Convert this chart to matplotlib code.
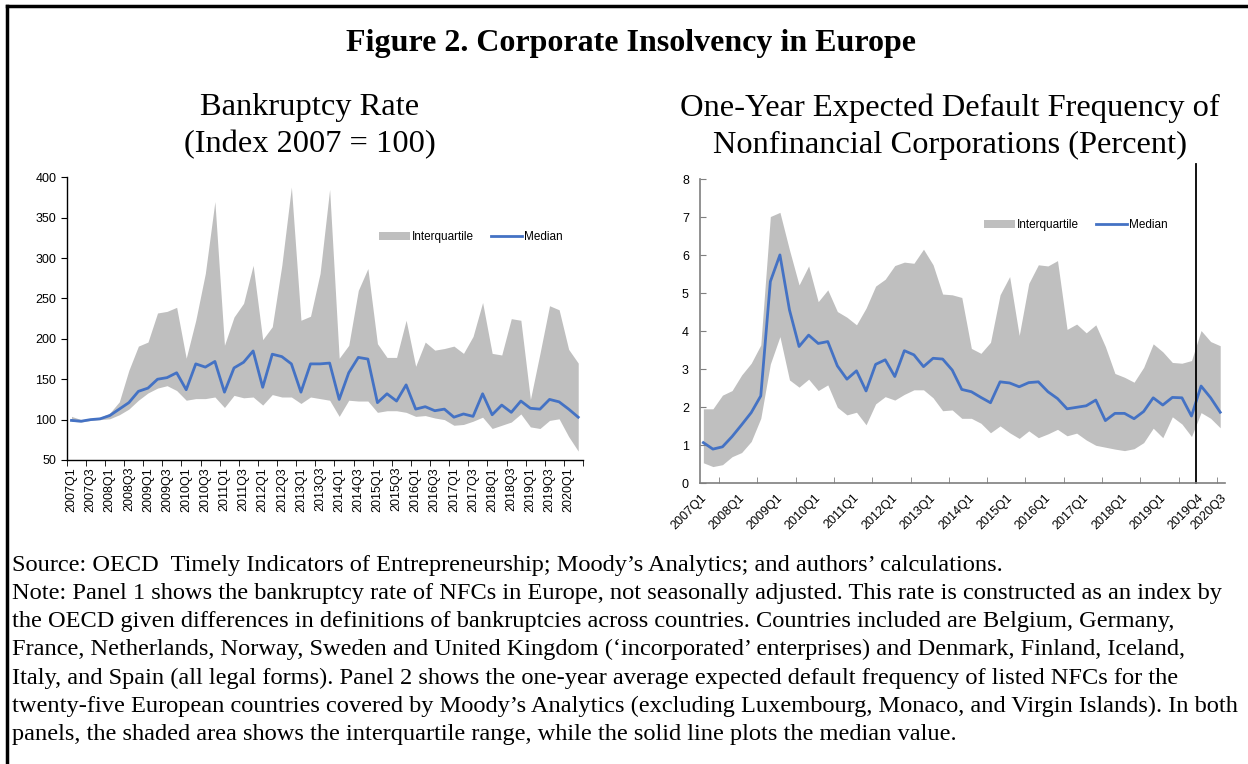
import numpy as np
import matplotlib
matplotlib.use('Agg')
from matplotlib import pyplot as plt
from matplotlib.patches import Patch
from matplotlib.lines import Line2D

# left panel: bankruptcy rate, 2007Q1 - 2020Q2
br_labels = [f'{y}Q{q}' for y in range(2007, 2021) for q in (1, 3)]
br_median = [99, 98, 100, 101, 105, 113, 121, 135, 139, 150, 152, 158, 137, 169, 165, 172,
             134, 164, 171, 185, 140, 181, 178, 169, 134, 169, 169, 170, 125, 158, 177, 175,
             121, 132, 123, 143, 113, 116, 111, 113, 103, 107, 104, 132, 106, 118, 109, 123,
             114, 113, 125, 122, 113, 103]
br_upper = [104, 100, 101, 103, 108, 122, 161, 191, 196, 232, 234, 239, 176, 223, 281, 370,
            192, 227, 244, 291, 199, 215, 291, 388, 223, 228, 281, 385, 176, 192, 260, 287,
            194, 177, 177, 223, 166, 196, 186, 188, 191, 182, 203, 245, 182, 180, 225, 223,
            125, 182, 241, 236, 187, 170]
br_lower = [98, 97, 99, 100, 101, 106, 113, 124, 133, 139, 142, 136, 124, 126, 126, 128,
            115, 130, 127, 128, 118, 131, 128, 128, 120, 128, 126, 124, 104, 124, 123, 123,
            109, 111, 111, 109, 104, 105, 102, 100, 93, 94, 98, 103, 89, 93, 97, 107,
            91, 89, 99, 101, 79, 61]

# right panel: expected default frequency, 2007Q1 - 2020Q3
edf_median = [1.07, 0.90, 0.96, 1.23, 1.54, 1.86, 2.30, 5.31, 6.01, 4.56, 3.60, 3.90, 3.68, 3.73,
              3.09, 2.74, 2.96, 2.43, 3.13, 3.25, 2.81, 3.49, 3.38, 3.07, 3.29, 3.27, 2.98, 2.47,
              2.41, 2.26, 2.12, 2.67, 2.64, 2.54, 2.65, 2.67, 2.41, 2.23, 1.96, 2.00, 2.04, 2.19,
              1.65, 1.84, 1.84, 1.70, 1.89, 2.25, 2.06, 2.26, 2.25, 1.77, 2.56, 2.25, 1.87]
edf_upper = [1.96, 1.96, 2.32, 2.44, 2.85, 3.16, 3.64, 7.02, 7.13, 6.14, 5.22, 5.72, 4.78, 5.09,
             4.52, 4.37, 4.17, 4.61, 5.19, 5.37, 5.73, 5.82, 5.79, 6.16, 5.75, 4.98, 4.96, 4.89,
             3.55, 3.42, 3.71, 4.96, 5.44, 3.89, 5.26, 5.75, 5.72, 5.86, 4.05, 4.19, 3.96, 4.17,
             3.60, 2.89, 2.79, 2.66, 3.05, 3.67, 3.46, 3.18, 3.16, 3.23, 4.02, 3.73, 3.62]
edf_lower = [0.54, 0.44, 0.49, 0.70, 0.81, 1.10, 1.71, 3.14, 3.86, 2.72, 2.53, 2.74, 2.44, 2.59,
             2.00, 1.80, 1.87, 1.54, 2.09, 2.28, 2.19, 2.34, 2.46, 2.46, 2.25, 1.91, 1.93, 1.71,
             1.71, 1.58, 1.33, 1.51, 1.33, 1.18, 1.38, 1.20, 1.30, 1.42, 1.25, 1.32, 1.14, 1.00,
             0.95, 0.90, 0.86, 0.91, 1.07, 1.45, 1.20, 1.75, 1.56, 1.23, 1.86, 1.71, 1.46]
edf_labels = [f'{y}Q1' for y in range(2007, 2020)] + ['2019Q4', '2020Q3']

note_lines = [
    "Source: OECD  Timely Indicators of Entrepreneurship; Moody\u2019s Analytics; and authors\u2019 calculations.",
    "Note: Panel 1 shows the bankruptcy rate of NFCs in Europe, not seasonally adjusted. This rate is constructed as an index by",
    "the OECD given differences in definitions of bankruptcies across countries. Countries included are Belgium, Germany,",
    "France, Netherlands, Norway, Sweden and United Kingdom (\u2018incorporated\u2019 enterprises) and Denmark, Finland, Iceland,",
    "Italy, and Spain (all legal forms). Panel 2 shows the one-year average expected default frequency of listed NFCs for the",
    "twenty-five European countries covered by Moody\u2019s Analytics (excluding Luxembourg, Monaco, and Virgin Islands). In both",
    "panels, the shaded area shows the interquartile range, while the solid line plots the median value.",
]

GRAY = '#BFBFBF'
BLUE = '#4472C4'
SANS = 'Liberation Sans'
SERIF = 'Liberation Serif'
W, H = 1248, 764

fig = plt.figure(figsize=(12.48, 7.64), dpi=100)

# frame: top and left edges only
fig.add_artist(Line2D([7 / W, 1], [1 - 6 / H, 1 - 6 / H], color='black', lw=2.5))
fig.add_artist(Line2D([7 / W, 7 / W], [0, 1 - 6 / H], color='black', lw=2.5))

fig.text(631 / W, 1 - 44 / H, 'Figure 2. Corporate Insolvency in Europe', ha='center', va='center',
         family=SERIF, fontweight='bold', fontsize=23)
fig.text(310 / W, 1 - 108 / H, 'Bankruptcy Rate', ha='center', va='center', family=SERIF, fontsize=23.4)
fig.text(310 / W, 1 - 145 / H, '(Index 2007 = 100)', ha='center', va='center', family=SERIF, fontsize=23.4)
fig.text(950 / W, 1 - 108 / H, 'One-Year Expected Default Frequency of', ha='center', va='center',
         family=SERIF, fontsize=23.4)
fig.text(950 / W, 1 - 145 / H, 'Nonfinancial Corporations (Percent)', ha='center', va='center',
         family=SERIF, fontsize=23.4)

# ---- left panel
ax1 = fig.add_axes([66.7 / W, 1 - 460 / H, (583 - 66.7) / W, (460 - 177.3) / H])
x1 = np.arange(len(br_median))
ax1.fill_between(x1, br_lower, br_upper, color=GRAY, lw=0)
ax1.plot(x1, br_median, color=BLUE, lw=2)
ax1.set_xlim(-0.5, len(x1) - 0.5)
ax1.set_ylim(50, 400)
ax1.set_yticks(range(50, 401, 50))
ax1.set_xticks(np.arange(0, len(x1), 2))
ax1.set_xticklabels(br_labels[:len(range(0, len(x1), 2))], rotation=90)
ax1.set_xticks(np.arange(-0.5, len(x1), 2), minor=True)
ax1.tick_params(axis='x', which='major', length=0, pad=5)
ax1.tick_params(axis='x', which='minor', length=4, direction='out', color='black')
ax1.tick_params(axis='y', length=4, direction='out')
for lab in ax1.get_xticklabels() + ax1.get_yticklabels():
    lab.set_family(SANS)
    lab.set_fontsize(9)
for s in ('top', 'right'):
    ax1.spines[s].set_visible(False)
for s in ('left', 'bottom'):
    ax1.spines[s].set_color('black')
    ax1.spines[s].set_linewidth(1)

handles = [Patch(facecolor=GRAY, edgecolor='none'), Line2D([], [], color=BLUE, lw=2)]
leg_kw = dict(ncol=2, frameon=False, handlelength=2.6, handleheight=0.6, handletextpad=0.15,
              columnspacing=1.5, prop={'family': SANS, 'size': 8.5}, borderaxespad=0, borderpad=0)
fig.legend(handles, ['Interquartile', 'Median'], loc='center left',
           bbox_to_anchor=(379 / W, 1 - 237 / H), **leg_kw)

# ---- right panel
ax2 = fig.add_axes([700 / W, 1 - 483.3 / H, (1225 - 700) / W, (483.3 - 179.3) / H])
x2 = np.arange(len(edf_median))
ax2.fill_between(x2, edf_lower, edf_upper, color=GRAY, lw=0)
ax2.plot(x2, edf_median, color=BLUE, lw=2)
ax2.set_xlim(-0.35, 54.5)
ax2.set_ylim(0, 8)
ax2.set_yticks(range(0, 9))
lab_pos = [-0.35 + 4 * k for k in range(13)] + [51.65, 54.0]
ax2.set_xticks(lab_pos)
ax2.set_xticklabels(edf_labels, rotation=45, ha='right', rotation_mode='anchor')
ax2.set_xticks(np.arange(-0.35, 54.6, 2), minor=True)
ax2.tick_params(axis='x', which='major', length=0, pad=6)
ax2.tick_params(axis='x', which='minor', length=4, direction='in', color='#7F7F7F')
ax2.tick_params(axis='y', length=4, direction='in', color='#7F7F7F', pad=8)
for lab in ax2.get_xticklabels() + ax2.get_yticklabels():
    lab.set_family(SANS)
    lab.set_fontsize(9)
for s in ('top', 'right'):
    ax2.spines[s].set_visible(False)
for s in ('left', 'bottom'):
    ax2.spines[s].set_color('#7F7F7F')
    ax2.spines[s].set_linewidth(1.2)
ax2.plot([51.5, 51.5], [0, 8.4], color='black', lw=1.3, clip_on=False)

fig.legend(handles, ['Interquartile', 'Median'], loc='center left',
           bbox_to_anchor=(984 / W, 1 - 225 / H), **leg_kw)

# ---- notes
for k, line in enumerate(note_lines):
    fig.text(12 / W, 1 - (565 + 28.3 * k) / H, line, ha='left', va='center',
             family=SERIF, fontsize=17.6)

fig.savefig('out.png', dpi=100)
